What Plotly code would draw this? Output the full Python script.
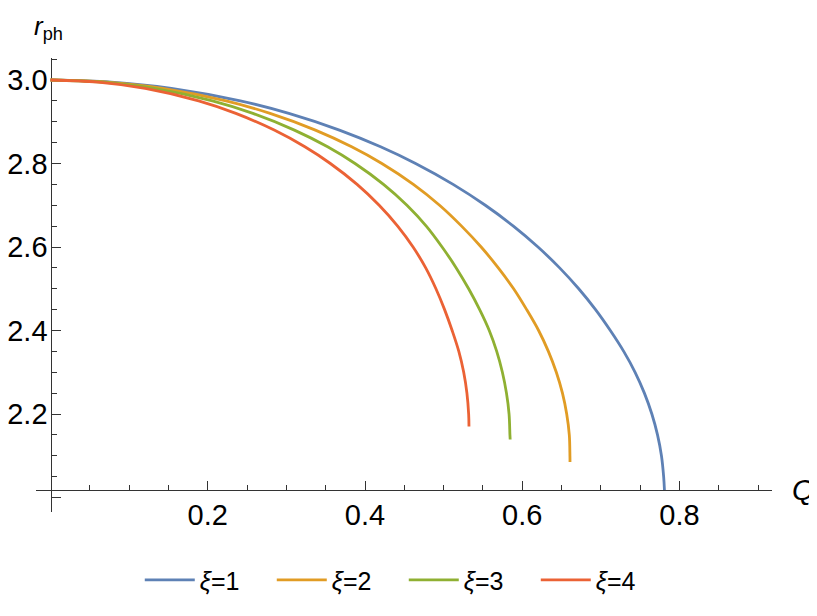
import plotly.graph_objects as go

# ---- data (Q, r_ph) ----
q_xi1 = [0.0000, 0.0772, 0.1538, 0.2414, 0.3031, 0.3674, 0.4198, 0.4643, 0.5120, 0.5530, 0.5887, 0.6200,
         0.6475, 0.6718, 0.6932, 0.7120, 0.7290, 0.7435, 0.7553, 0.7648, 0.7720, 0.7770, 0.7798, 0.7808]
r_xi1 = [3.000, 2.995, 2.980, 2.950, 2.920, 2.880, 2.840, 2.800, 2.750, 2.700, 2.650, 2.600,
         2.550, 2.500, 2.450, 2.400, 2.350, 2.300, 2.250, 2.200, 2.150, 2.100, 2.050, 2.018]

q_xi2 = [0.0000, 0.0717, 0.1427, 0.2232, 0.2792, 0.3369, 0.3830, 0.4214, 0.4615, 0.4948, 0.5228, 0.5477,
         0.5695, 0.5890, 0.6056, 0.6208, 0.6332, 0.6433, 0.6511, 0.6565, 0.6598, 0.6606, 0.6607]
r_xi2 = [3.000, 2.995, 2.980, 2.950, 2.920, 2.880, 2.840, 2.800, 2.750, 2.700, 2.650, 2.600,
         2.550, 2.500, 2.450, 2.400, 2.350, 2.300, 2.250, 2.200, 2.150, 2.100, 2.085]

q_xi3 = [0.0000, 0.0662, 0.1317, 0.2059, 0.2574, 0.3102, 0.3524, 0.3873, 0.4235, 0.4533, 0.4779, 0.4980,
         0.5160, 0.5318, 0.5458, 0.5580, 0.5675, 0.5747, 0.5799, 0.5832, 0.5843, 0.5846]
r_xi3 = [3.000, 2.995, 2.980, 2.950, 2.920, 2.880, 2.840, 2.800, 2.750, 2.700, 2.650, 2.600,
         2.550, 2.500, 2.450, 2.400, 2.350, 2.300, 2.250, 2.200, 2.150, 2.139]

q_xi4 = [0.0000, 0.0605, 0.1204, 0.1884, 0.2357, 0.2845, 0.3235, 0.3559, 0.3899, 0.4180, 0.4415, 0.4611,
         0.4772, 0.4902, 0.5012, 0.5108, 0.5193, 0.5255, 0.5296, 0.5318, 0.5322]
r_xi4 = [3.000, 2.995, 2.980, 2.950, 2.920, 2.880, 2.840, 2.800, 2.750, 2.700, 2.650, 2.600,
         2.550, 2.500, 2.450, 2.400, 2.350, 2.300, 2.250, 2.200, 2.170]

series_names = ["<i>ξ</i>=1", "<i>ξ</i>=2", "<i>ξ</i>=3", "<i>ξ</i>=4"]
series_colors = ["#5E81B5", "#E19C24", "#8FB032", "#EB6235"]

x_major = [0.2, 0.4, 0.6, 0.8]
x_major_text = ["0.2", "0.4", "0.6", "0.8"]
x_minor = [0.05, 0.10, 0.15, 0.25, 0.30, 0.35, 0.45, 0.50, 0.55, 0.65, 0.70, 0.75, 0.85, 0.90]
y_major = [2.0, 2.2, 2.4, 2.6, 2.8, 3.0]
y_major_text = [" ", "2.2", "2.4", "2.6", "2.8", "3.0"]
y_minor = [2.05, 2.10, 2.15, 2.25, 2.30, 2.35, 2.45, 2.50, 2.55, 2.65, 2.70, 2.75, 2.85, 2.90, 2.95, 3.05]

X_RANGE = [-0.01845, 0.9176]
Y_RANGE = [1.9653, 3.0527]
X_AXIS_AT = 2.018   # y value where the horizontal axis crosses
Y_AXIS_AT = 0.0     # x value where the vertical axis crosses

FONT = "Liberation Sans, Arial, sans-serif"
AXIS_COLOR = "#333333"

fig = go.Figure()
for q, r, c, n in zip([q_xi1, q_xi2, q_xi3, q_xi4],
                      [r_xi1, r_xi2, r_xi3, r_xi4],
                      series_colors, series_names):
    fig.add_trace(go.Scatter(
        x=q, y=r, mode="lines", name=n,
        line=dict(color=c, width=2.8, shape="spline", smoothing=1.0),
    ))

x_pos = (X_AXIS_AT - Y_RANGE[0]) / (Y_RANGE[1] - Y_RANGE[0])
y_pos = (Y_AXIS_AT - X_RANGE[0]) / (X_RANGE[1] - X_RANGE[0])

# the page body adds an 8px margin; the figure is sized so it fills the window
fig.update_layout(
    width=809, height=608,
    margin=dict(l=28, r=45.3, t=50, b=104, autoexpand=False),
    plot_bgcolor="white", paper_bgcolor="white",
    font=dict(family=FONT, color="black"),
    showlegend=True,
    legend=dict(
        orientation="h", x=0.141, xanchor="left", y=-0.15, yanchor="middle",
        font=dict(family=FONT, size=25, color="black"),
        entrywidth=67, entrywidthmode="pixels", itemwidth=50,
        bgcolor="rgba(0,0,0,0)",
    ),
    xaxis=dict(
        range=X_RANGE, anchor="free", position=x_pos, automargin=False,
        showline=True, linecolor=AXIS_COLOR, linewidth=1.3,
        showgrid=False, zeroline=False, layer="below traces",
        tickmode="array", tickvals=x_major, ticktext=x_major_text,
        ticks="inside", ticklen=9, tickwidth=1.3, tickcolor=AXIS_COLOR,
        minor=dict(tickmode="array", tickvals=x_minor, ticks="inside",
                   ticklen=5, tickwidth=1, tickcolor=AXIS_COLOR, showgrid=False),
        tickfont=dict(family=FONT, size=29, color="black"),
        ticklabelstandoff=-1,
    ),
    yaxis=dict(
        range=Y_RANGE, anchor="free", position=y_pos, automargin=False,
        showline=True, linecolor=AXIS_COLOR, linewidth=1.3,
        showgrid=False, zeroline=False, layer="below traces",
        tickmode="array", tickvals=y_major, ticktext=y_major_text,
        ticks="inside", ticklen=9, tickwidth=1.3, tickcolor=AXIS_COLOR,
        minor=dict(tickmode="array", tickvals=y_minor, ticks="inside",
                   ticklen=5, tickwidth=1, tickcolor=AXIS_COLOR, showgrid=False),
        tickfont=dict(family=FONT, size=29, color="black"),
        ticklabelstandoff=-3,
    ),
    annotations=[
        dict(text="<i>r</i><sub>ph</sub>", xref="paper", yref="paper",
             x=y_pos, y=1.0, xanchor="center", yanchor="bottom", yshift=12, xshift=-2,
             showarrow=False, font=dict(family=FONT, size=26, color="black")),
        dict(text="<i>Q</i>", xref="paper", yref="paper",
             x=1.0, y=x_pos, xanchor="left", yanchor="middle", xshift=18,
             showarrow=False, font=dict(family=FONT, size=29, color="black")),
    ],
)

fig.write_html("out.html")
